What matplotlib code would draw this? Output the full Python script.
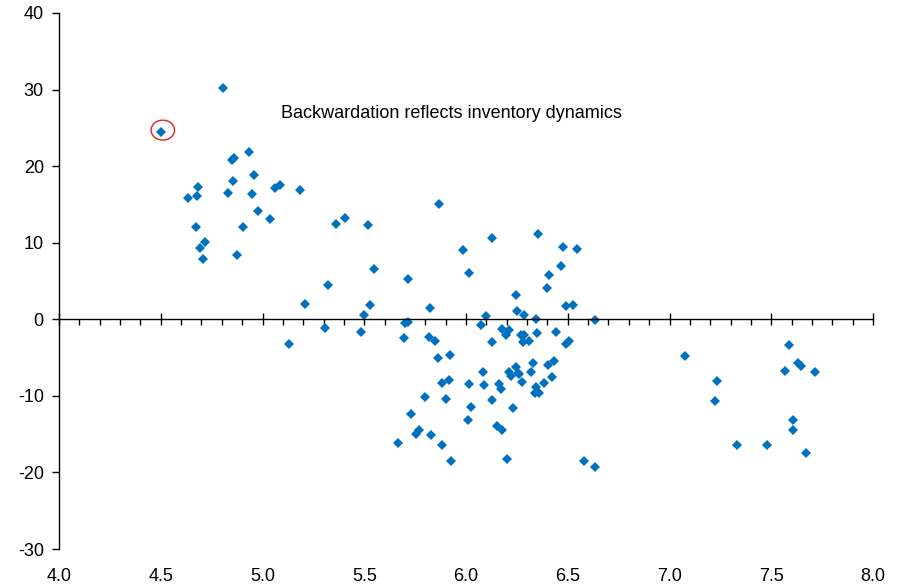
# coding: utf-8

import matplotlib.pyplot as plt
from matplotlib.patches import Ellipse
from matplotlib.ticker import MultipleLocator, FixedLocator

# curve slope (x) against roll yield (y)
slope = [
    4.805, 4.500, 4.933, 4.862, 4.852, 4.957, 4.683, 4.855, 4.634, 4.678,
    4.832, 4.950, 5.062, 5.085, 5.186, 4.977, 5.039, 4.672, 4.903, 4.718,
    4.693, 4.709, 4.873, 5.360, 5.324, 5.208, 5.309, 5.129,
    5.867, 5.405, 5.516, 5.983, 6.016, 5.550, 5.716, 5.529, 5.821, 5.501,
    5.700, 5.714, 5.486, 5.696, 5.817, 5.849, 5.922, 5.862, 5.917, 5.881,
    6.017, 5.796, 5.901, 6.026, 5.731, 6.012, 5.767, 5.752, 5.829, 5.665,
    5.880, 5.927,
    6.127, 6.353, 6.478, 6.543, 6.466, 6.409, 6.399, 6.245, 6.250, 6.283,
    6.493, 6.524, 6.096, 6.342, 6.635, 6.075, 6.178, 6.209, 6.195, 6.268,
    6.283, 6.348, 6.443, 6.129, 6.280, 6.309, 6.489, 6.506, 6.430, 6.402,
    6.329, 6.245, 6.083, 6.212, 6.320, 6.253, 6.262, 6.219, 6.422, 6.086,
    6.162, 6.170, 6.273, 6.381, 6.345, 6.340, 6.360, 6.129, 6.229, 6.152,
    6.178, 6.199, 6.580, 6.634,
    7.076, 7.586, 7.568, 7.630, 7.648, 7.713, 7.235, 7.225, 7.609, 7.605,
    7.330, 7.479, 7.669,
]
roll_yield = [
    30.2, 24.5, 21.9, 21.0, 20.8, 18.8, 17.3, 18.0, 15.8, 16.1,
    16.45, 16.3, 17.1, 17.5, 16.9, 14.2, 13.1, 12.0, 12.1, 10.1,
    9.3, 7.9, 8.4, 12.4, 4.5, 2.0, -1.1, -3.2,
    15.0, 13.2, 12.3, 9.0, 6.1, 6.6, 5.2, 1.9, 1.5, 0.6,
    -0.5, -0.4, -1.7, -2.5, -2.3, -2.9, -4.6, -5.0, -7.9, -8.3,
    -8.4, -10.2, -10.4, -11.4, -12.4, -13.1, -14.4, -15.0, -15.1, -16.2,
    -16.4, -18.5,
    10.6, 11.2, 9.5, 9.2, 7.0, 5.8, 4.1, 3.2, 1.1, 0.6,
    1.7, 1.9, 0.4, 0.1, -0.05, -0.8, -1.3, -1.4, -2.0, -2.0,
    -2.1, -1.8, -1.6, -3.0, -3.0, -2.8, -3.2, -2.8, -5.4, -6.0,
    -5.7, -6.2, -6.9, -6.9, -6.9, -7.0, -7.1, -7.4, -7.6, -8.6,
    -8.4, -9.1, -8.2, -8.3, -8.9, -9.6, -9.6, -10.6, -11.6, -14.0,
    -14.4, -18.3, -18.5, -19.3,
    -4.8, -3.4, -6.7, -5.7, -6.1, -6.9, -8.0, -10.7, -13.1, -14.4,
    -16.4, -16.4, -17.4,
]

x_ticks = [4.0, 4.5, 5.0, 5.5, 6.0, 6.5, 7.0, 7.5, 8.0]
y_ticks = [-30, -20, -10, 0, 10, 20, 30, 40]

# the point that gets circled
outlier = (4.51, 24.7)
note = 'Backwardation reflects inventory dynamics'


def main():
    plt.rcParams['font.family'] = ['Liberation Sans', 'DejaVu Sans']
    plt.rcParams['axes.unicode_minus'] = False

    fig = plt.figure(figsize=(9, 5.87), dpi=100)
    ax = fig.add_axes([0.0656, 0.0647, 0.9044, 0.9132])

    ax.plot(slope, roll_yield, 'D', color='#0070C0', markersize=5,
            markeredgewidth=0, linestyle='None')

    ax.add_patch(Ellipse(outlier, width=0.115, height=2.6, fill=False,
                         edgecolor='#E02020', linewidth=1.0))
    ax.text(5.93, 26.9, note, ha='center', va='center', fontsize=13)

    ax.set_xlim(4.0, 8.0)
    ax.set_ylim(-30, 40)

    # x axis runs through zero, labels stay at the bottom
    ax.spines['top'].set_visible(False)
    ax.spines['right'].set_visible(False)
    ax.spines['bottom'].set_position(('data', 0))
    ax.spines['bottom'].set_linewidth(1.0)
    ax.spines['left'].set_linewidth(1.0)

    ax.xaxis.set_major_locator(FixedLocator(x_ticks))
    ax.xaxis.set_minor_locator(MultipleLocator(0.1))
    ax.tick_params(axis='x', which='major', direction='inout', length=9,
                   width=1.0, labelbottom=False)
    ax.tick_params(axis='x', which='minor', direction='out', length=4,
                   width=1.0)

    ax.yaxis.set_major_locator(FixedLocator(y_ticks))
    ax.tick_params(axis='y', which='major', direction='out', length=5,
                   width=1.0, labelsize=13, pad=6)

    low = ax.secondary_xaxis('bottom')
    low.spines['bottom'].set_visible(False)
    low.xaxis.set_major_locator(FixedLocator(x_ticks))
    low.xaxis.set_major_formatter(lambda v, pos: f'{v:.1f}')
    low.tick_params(which='both', length=0, labelsize=13, pad=14)

    fig.savefig('out.png', dpi=100)


if __name__ == '__main__':
    main()
